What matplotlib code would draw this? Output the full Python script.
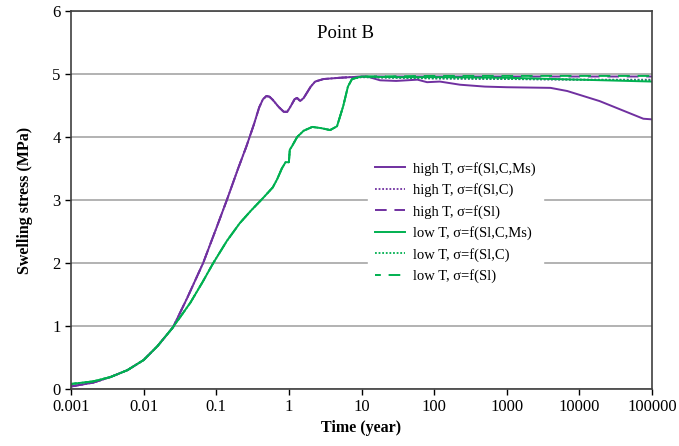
import matplotlib
matplotlib.use("Agg")
from matplotlib import pyplot as plt

plt.rcParams["font.family"] = ["Liberation Serif", "DejaVu Serif"]

# high T, sigma=f(Sl,C,Ms)
t_high = [0.001, 0.002, 0.0035, 0.006, 0.01, 0.0155, 0.0254, 0.04, 0.066, 0.1,
          0.14, 0.2, 0.26, 0.33, 0.39, 0.44, 0.49, 0.54, 0.6, 0.72,
          0.85, 0.95, 1.05, 1.2, 1.3, 1.43, 1.6, 2.0, 2.3, 3.0,
          5.0, 7.0, 12, 18, 30, 59, 80, 120, 227, 500,
          1000, 4000, 6800, 19000, 76000, 100000]
s_high = [0.04, 0.10, 0.19, 0.30, 0.46, 0.68, 0.98, 1.45, 2.0, 2.55,
          3.0, 3.5, 3.85, 4.2, 4.47, 4.6, 4.65, 4.64, 4.59, 4.48,
          4.40, 4.40, 4.48, 4.6, 4.62, 4.57, 4.62, 4.8, 4.88, 4.92,
          4.94, 4.95, 4.96, 4.9, 4.89, 4.91, 4.87, 4.88, 4.83, 4.80,
          4.79, 4.78, 4.73, 4.57, 4.29, 4.28]

# low T, sigma=f(Sl,C,Ms)
t_low = [0.001, 0.002, 0.0035, 0.006, 0.01, 0.0155, 0.025, 0.044, 0.065, 0.091,
         0.14, 0.21, 0.3, 0.44, 0.6, 0.69, 0.8, 0.9, 1.0, 1.03,
         1.1, 1.3, 1.6, 2.1, 2.8, 3.7, 4.6, 5.6, 6.5, 7.4,
         10, 30, 100, 1000, 10000, 100000]
s_low = [0.08, 0.12, 0.19, 0.30, 0.46, 0.68, 0.97, 1.37, 1.7, 2.0,
         2.35, 2.63, 2.83, 3.03, 3.2, 3.33, 3.5, 3.6, 3.6, 3.8,
         3.85, 4.0, 4.1, 4.16, 4.14, 4.11, 4.17, 4.49, 4.8, 4.92,
         4.96, 4.95, 4.95, 4.94, 4.91, 4.88]

# late-time plateaus of the other cases (early part hidden under the solid lines)
t_tail = [10, 100, 1000, 10000, 100000]
s_high_slc = [4.95, 4.93, 4.92, 4.91, 4.91]
s_high_sl = [4.96, 4.96, 4.96, 4.96, 4.96]
s_low_slc = [4.95, 4.93, 4.92, 4.91, 4.90]
s_low_sl = [4.96, 4.97, 4.97, 4.97, 4.97]

n_high = sum(1 for t in t_high if t <= 7)
n_low = sum(1 for t in t_low if t <= 7.4)

purple = "#7030A0"
green = "#00B050"

fig = plt.figure(figsize=(6.79, 4.46), dpi=100)
ax = fig.add_axes([71 / 679, 1 - 389 / 446, 581 / 679, 378 / 446])

ax.plot(t_high, s_high, color=purple, lw=1.4, ls="-", label="high T, σ=f(Sl,C,Ms)")
ax.plot(t_high[:n_high] + t_tail, s_high[:n_high] + s_high_slc, color=purple, lw=1.3,
        ls=(0, (1, 1)), label="high T, σ=f(Sl,C)")
ax.plot(t_high[:n_high] + t_tail, s_high[:n_high] + s_high_sl, color=purple, lw=1.4,
        ls=(0, (6, 4)), label="high T, σ=f(Sl)")
ax.plot(t_low, s_low, color=green, lw=1.4, ls="-", label="low T, σ=f(Sl,C,Ms)")
ax.plot(t_low[:n_low] + t_tail, s_low[:n_low] + s_low_slc, color=green, lw=1.3,
        ls=(0, (1, 1)), label="low T, σ=f(Sl,C)")
ax.plot(t_low[:n_low] + t_tail, s_low[:n_low] + s_low_sl, color=green, lw=1.4,
        ls=(3, (6, 4)), label="low T, σ=f(Sl)")

ax.set_xscale("log")
ax.set_xlim(0.001, 100000)
ax.set_ylim(0, 6)
xt = [0.001, 0.01, 0.1, 1, 10, 100, 1000, 10000, 100000]
ax.set_xticks(xt)
ax.set_xticklabels(["0.001", "0.01", "0.1", "1", "10", "100", "1000", "10000", "100000"])
ax.minorticks_off()
ax.set_yticks([0, 1, 2, 3, 4, 5, 6])
ax.tick_params(labelsize=12, direction="out", length=4, width=1)
ax.yaxis.grid(True, color="#a6a6a6", lw=1.2)
ax.set_axisbelow(True)
for sp in ax.spines.values():
    sp.set_color("#404040")
    sp.set_linewidth(1.2)

ax.set_xlabel("Time (year)", fontsize=11.5, fontweight="bold", labelpad=3)
ax.set_ylabel("Swelling stress (MPa)", fontsize=11.5, fontweight="bold", labelpad=14)
ax.text(0.472, 0.94, "Point B", transform=ax.transAxes, fontsize=13.5,
        ha="center", va="center")

leg = ax.legend(loc="upper left", bbox_to_anchor=(0.498, 0.64), frameon=True,
                fontsize=10.5, handlelength=2.05, handletextpad=0.55,
                labelspacing=0.52, borderpad=0.5)
leg.get_frame().set_edgecolor("white")
leg.get_frame().set_facecolor("white")
leg.get_frame().set_alpha(1)

fig.savefig("out.png", dpi=100)
